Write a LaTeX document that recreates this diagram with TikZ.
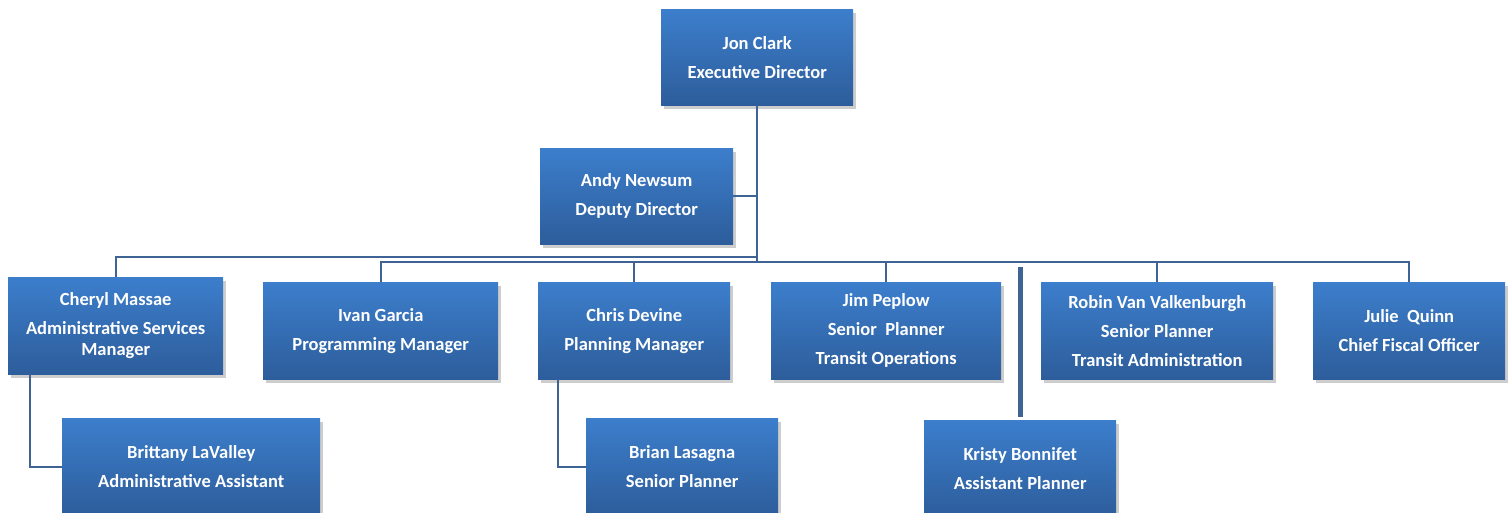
\documentclass[tikz,border=0pt]{standalone}
\usepackage{fontspec}
\setmainfont{Carlito}
\usetikzlibrary{shadows}
\definecolor{boxtop}{RGB}{60,126,204}
\definecolor{boxbot}{RGB}{45,93,155}
\definecolor{linec}{RGB}{62,100,150}
\tikzset{
  person/.style={rectangle, anchor=north west, inner sep=0pt,
    top color=boxtop, bottom color=boxbot, draw=none,
    drop shadow={shadow xshift=3pt, shadow yshift=-4pt, opacity=0.28, fill=black!70},
    text=white, align=center, font=\fontsize{18.5}{21}\selectfont\bfseries},
  conn/.style={draw=linec, line width=2pt},
  bar/.style={draw=linec, line width=5pt}
}
\begin{document}
\begin{tikzpicture}[x=1pt,y=-1pt]
\useasboundingbox (0,0) rectangle (1511,512);
\clip (0,0) rectangle (1511,512);
\node[person, minimum width=192pt, minimum height=96pt] (jon) at (661,9) {Jon Clark\\[8pt]Executive Director};
\node[person, minimum width=193pt, minimum height=96pt] (andy) at (540,148) {Andy Newsum\\[8pt]Deputy Director};
\node[person, minimum width=215pt, minimum height=97pt] (cheryl) at (8,277) {Cheryl Massae\\[8pt]Administrative Services\\Manager};
\node[person, minimum width=235pt, minimum height=97pt] (ivan) at (263,282) {Ivan Garcia\\[8pt]Programming Manager};
\node[person, minimum width=192pt, minimum height=97pt] (chris) at (538,282) {Chris Devine\\[8pt]Planning Manager};
\node[person, minimum width=230pt, minimum height=97pt] (jim) at (771,282) {Jim Peplow\\[8pt]Senior\ \ Planner\\[8pt]Transit Operations};
\node[person, minimum width=232pt, minimum height=97pt] (robin) at (1041,282) {Robin Van Valkenburgh\\[8pt]Senior Planner\\[8pt]Transit Administration};
\node[person, minimum width=192pt, minimum height=97pt] (julie) at (1313,282) {Julie\ \ Quinn\\[8pt]Chief Fiscal Officer};
\node[person, minimum width=258pt, minimum height=97pt] (brittany) at (62,418) {Brittany LaValley\\[8pt]Administrative Assistant};
\node[person, minimum width=192pt, minimum height=97pt] (brian) at (586,418) {Brian Lasagna\\[8pt]Senior Planner};
\node[person, minimum width=192pt, minimum height=97pt] (kristy) at (924,420) {Kristy Bonnifet\\[8pt]Assistant Planner};
\coordinate (bus) at (0,262);
\coordinate (upper) at (0,257);
\coordinate (barTop) at (0,267);
\coordinate (leftA) at (30,0);
\coordinate (leftB) at (558,0);
\draw[conn] (jon.south) -- (jon.south |- bus);
\draw[conn] (andy.east) -- (andy.east -| jon.south);
\draw[conn] (jon.south |- upper) -| (cheryl.north);
\draw[conn] (ivan.north) |- (bus -| julie.north) -- (julie.north);
\draw[conn] (chris.north) -- (chris.north |- bus);
\draw[conn] (jim.north) -- (jim.north |- bus);
\draw[conn] (robin.north) -- (robin.north |- bus);
\draw[bar] (kristy.north |- barTop) -- ([yshift=3pt]kristy.north);
\draw[conn] (cheryl.south -| leftA) |- (brittany.west);
\draw[conn] (chris.south -| leftB) |- (brian.west);
\end{tikzpicture}
\end{document}
